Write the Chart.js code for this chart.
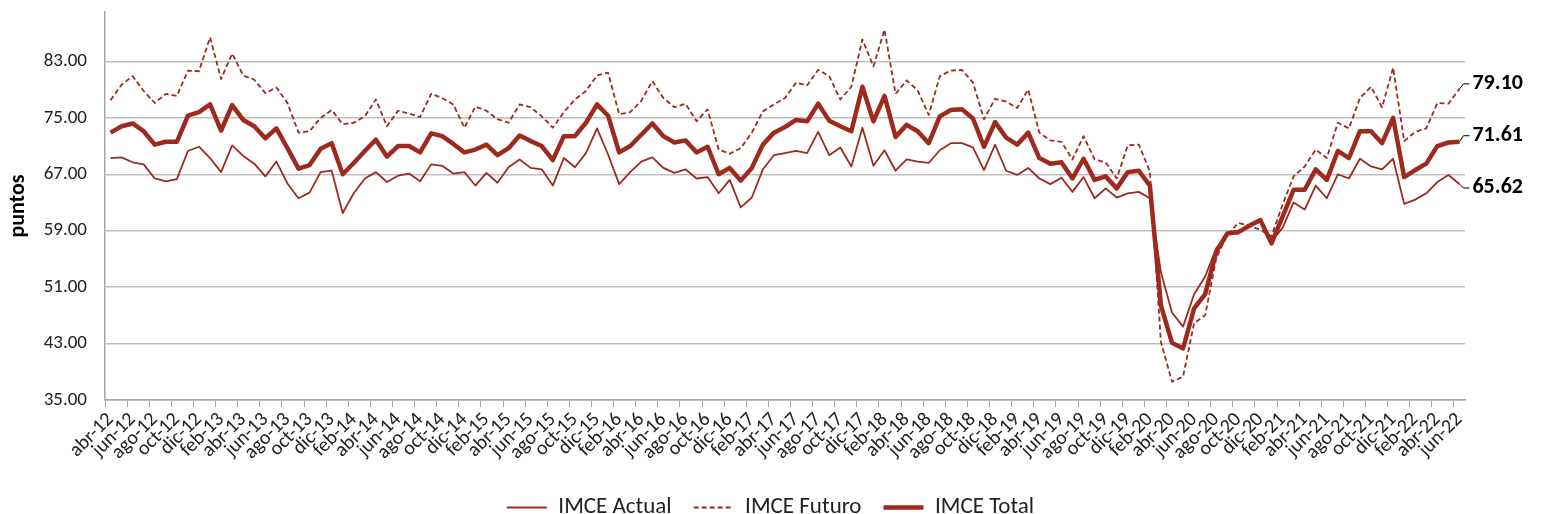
<!DOCTYPE html>
<html>
<head>
<meta charset="utf-8">
<script src="https://cdn.jsdelivr.net/npm/chart.js@4.4.1/dist/chart.umd.min.js"></script>
<style>
  html, body { margin: 0; padding: 0; background: #fff; }
</style>
</head>
<body>
<canvas id="imceChart" width="1541" height="514"></canvas>
<script>
// meses abr-12 .. jun-22
var monthNames = ['ene', 'feb', 'mar', 'abr', 'may', 'jun', 'jul', 'ago', 'sep', 'oct', 'nov', 'dic'];
var firstYear = 2012, firstMonth = 3, nMonths = 123;

var imceActual = [
  69.3, 69.4, 68.7, 68.4, 66.4, 66.0, 66.3, 70.3, 70.9, 69.3, 67.3, 71.1,
  69.6, 68.5, 66.7, 68.8, 65.7, 63.6, 64.4, 67.3, 67.5, 61.5, 64.3, 66.4,
  67.3, 65.9, 66.8, 67.1, 66.0, 68.4, 68.2, 67.1, 67.3, 65.4, 67.2, 65.8,
  68.0, 69.1, 67.9, 67.7, 65.4, 69.3, 68.0, 70.0, 73.5, 69.8, 65.6, 67.3,
  68.8, 69.4, 67.9, 67.2, 67.7, 66.4, 66.6, 64.3, 66.2, 62.3, 63.7, 67.7,
  69.7, 70.0, 70.3, 70.0, 73.0, 69.7, 70.8, 68.1, 73.6, 68.2, 70.4, 67.5,
  69.1, 68.8, 68.6, 70.4, 71.4, 71.4, 70.8, 67.6, 71.2, 67.5, 66.9, 67.9,
  66.4, 65.6, 66.5, 64.5, 66.6, 63.6, 65.0, 63.7, 64.3, 64.5, 63.6, 53.1,
  47.4, 45.4, 50.0, 52.5, 56.5, 58.6, 58.6, 59.9, 60.6, 57.5, 59.4, 63.0,
  62.0, 65.4, 63.6, 67.0, 66.4, 69.2, 68.1, 67.7, 69.2, 62.8, 63.4, 64.3,
  65.9, 66.9, 65.62
];

var imceFuturo = [
  77.5, 79.7, 80.9, 78.8, 77.1, 78.4, 78.1, 81.7, 81.6, 86.4, 80.5, 84.1,
  81.0, 80.4, 78.5, 79.3, 77.1, 72.9, 73.1, 75.0, 76.1, 74.1, 74.3, 75.2,
  77.6, 73.8, 76.0, 75.6, 75.1, 78.4, 77.8, 76.9, 73.6, 76.6, 76.0, 74.8,
  74.3, 76.9, 76.5, 75.2, 73.6, 75.8, 77.6, 78.8, 81.0, 81.4, 75.5, 75.8,
  77.4, 80.2, 77.8, 76.5, 77.0, 74.5, 76.2, 70.5, 69.9, 70.7, 72.9, 75.9,
  76.9, 77.8, 80.0, 79.6, 81.8, 80.9, 77.6, 79.4, 86.1, 82.3, 87.5, 78.4,
  80.3, 78.9, 75.4, 80.9, 81.7, 81.8, 80.0, 74.8, 77.7, 77.3, 76.4, 79.0,
  72.9, 71.8, 71.6, 69.1, 72.4, 69.1, 68.7, 66.4, 71.1, 71.2, 67.4, 43.2,
  37.6, 38.3, 45.9, 47.0, 55.1, 58.4, 60.1, 59.7, 59.1, 58.2, 62.7, 66.7,
  68.1, 70.5, 69.3, 74.3, 73.5, 77.8, 79.4, 76.5, 82.1, 71.7, 73.0, 73.5,
  77.1, 77.0, 79.10
];

var imceTotal = [
  72.9, 73.8, 74.2, 73.1, 71.2, 71.6, 71.6, 75.3, 75.8, 76.9, 73.2, 76.8,
  74.7, 73.8, 72.1, 73.5, 70.7, 67.8, 68.3, 70.6, 71.4, 67.0, 68.6, 70.3,
  71.9, 69.5, 71.0, 71.0, 70.1, 72.8, 72.4, 71.3, 70.1, 70.5, 71.2, 69.7,
  70.7, 72.5, 71.7, 71.0, 69.0, 72.4, 72.4, 74.3, 76.9, 75.3, 70.1, 71.0,
  72.6, 74.2, 72.4, 71.5, 71.8, 70.1, 70.9, 67.0, 67.9, 66.1, 67.9, 71.2,
  72.9, 73.7, 74.7, 74.5, 77.0, 74.6, 73.8, 73.1, 79.4, 74.5, 78.1, 72.3,
  74.0, 73.1, 71.4, 75.2, 76.1, 76.2, 74.9, 70.9, 74.4, 72.2, 71.2, 72.9,
  69.3, 68.5, 68.7, 66.4, 69.2, 66.2, 66.7, 65.0, 67.3, 67.5, 65.4, 48.4,
  43.1, 42.3, 48.0, 50.0, 56.0, 58.6, 58.8, 59.7, 60.5, 57.2, 61.0, 64.8,
  64.8, 67.7, 66.2, 70.3, 69.3, 73.1, 73.1, 71.4, 75.0, 66.6, 67.6, 68.5,
  71.0, 71.5, 71.61
];

var yTicks = [35, 43, 51, 59, 67, 75, 83];

var monthLabels = [];
for (var k = 0; k < nMonths; k++) {
    var m = (firstMonth + k) % 12;
    var yr = firstYear + Math.floor((firstMonth + k) / 12);
    monthLabels.push(monthNames[m] + '-' + String(yr).slice(2));
}

var lineColor = '#9e2a1e';
var fontFam = 'Carlito, Lato, sans-serif';

Chart.defaults.font.family = fontFam;
Chart.defaults.font.size = 19;
Chart.defaults.color = '#222';

// etiquetas del ultimo valor a la derecha
var endLabels = {
    id: 'endLabels',
    afterDatasetsDraw: function(chart) {
        var c = chart.ctx;
        var shifts = [4, -5, -6]; // actual, futuro, total
        chart.data.datasets.forEach(function(ds, di) {
            var meta = chart.getDatasetMeta(di);
            var pt = meta.data[meta.data.length - 1];
            var val = ds.data[ds.data.length - 1];
            var ly = pt.y + shifts[di];
            c.save();
            c.strokeStyle = '#000';
            c.lineWidth = 1;
            c.beginPath();
            c.moveTo(pt.x, pt.y);
            c.lineTo(pt.x + 4, ly);
            c.lineTo(pt.x + 10, ly);
            c.stroke();
            c.font = 'bold 22px ' + fontFam;
            c.fillStyle = '#000';
            c.textAlign = 'left';
            c.textBaseline = 'middle';
            c.fillText(val.toFixed(2), pt.x + 13, ly);
            c.restore();
        });
    }
};

var ctx = document.getElementById('imceChart').getContext('2d');
var chart = new Chart(ctx, {
    type: 'line',
    data: {
        labels: monthLabels,
        datasets: [{
            label: 'IMCE Actual',
            data: imceActual,
            borderColor: lineColor,
            backgroundColor: lineColor,
            borderWidth: 1.8,
            order: 2
        }, {
            label: 'IMCE Futuro',
            data: imceFuturo,
            borderColor: lineColor,
            backgroundColor: lineColor,
            borderWidth: 1.8,
            borderDash: [5, 3],
            order: 1
        }, {
            label: 'IMCE Total',
            data: imceTotal,
            borderColor: lineColor,
            backgroundColor: lineColor,
            borderWidth: 4.5,
            order: 0
        }]
    },
    options: {
        responsive: false,
        animation: false,
        elements: {
            point: { radius: 0 },
            line: { tension: 0, borderJoinStyle: 'round', fill: false }
        },
        layout: { padding: { top: 12, right: 0, left: 0, bottom: -15 } },
        plugins: {
            tooltip: { enabled: false },
            legend: {
                position: 'bottom',
                labels: {
                    usePointStyle: true,
                    pointStyle: 'line',
                    pointStyleWidth: 40,
                    padding: 22,
                    color: '#222',
                    font: { size: 23 },
                    // el dash del futuro no pasa solo a la leyenda
                    generateLabels: function(ch) {
                        var items = Chart.defaults.plugins.legend.labels.generateLabels(ch);
                        items.forEach(function(it) {
                            var ds = ch.data.datasets[it.datasetIndex];
                            it.lineDash = ds.borderDash || [];
                            it.lineWidth = ds.borderWidth;
                            it.strokeStyle = ds.borderColor;
                        });
                        return items;
                    },
                    sort: function(a, b) { return a.datasetIndex - b.datasetIndex; }
                }
            }
        },
        scales: {
            x: {
                offset: true,
                grid: {
                    offset: true,
                    drawOnChartArea: false,
                    tickLength: 7,
                    tickWidth: 1,
                    tickColor: function(c) { return c.index % 2 === 0 ? '#a6a6a6' : 'rgba(0,0,0,0)'; }
                },
                border: { color: '#a6a6a6', width: 1.5 },
                ticks: {
                    autoSkip: false,
                    minRotation: 45,
                    maxRotation: 45,
                    padding: 1,
                    font: { size: 20 },
                    callback: function(v, i) { return i % 2 === 0 ? this.getLabelForValue(v) : ''; }
                },
                afterFit: function(s) { s.height = 74; }
            },
            y: {
                min: 35,
                max: 90,
                afterBuildTicks: function(s) {
                    s.ticks = yTicks.map(function(v) { return { value: v }; });
                },
                grid: { color: '#bfbfbf', lineWidth: 1.5, drawTicks: false },
                border: { color: '#a6a6a6', width: 1.5 },
                ticks: {
                    padding: 18,
                    callback: function(v) { return Number(v).toFixed(2); }
                },
                title: {
                    display: true,
                    text: 'puntos',
                    color: '#000',
                    font: { size: 22, weight: 'bold' },
                    padding: { top: 5, bottom: 0 }
                },
                afterFit: function(s) {
                    s.width = 105;
                    s.paddingTop = 0;
                    s.paddingBottom = 0;
                }
            },
            // eje vacio a la derecha: deja sitio a las etiquetas finales
            yRight: {
                position: 'right',
                display: true,
                min: 35,
                max: 90,
                grid: { display: false },
                border: { display: false },
                ticks: { display: false },
                afterFit: function(s) {
                    s.width = 76;
                    s.paddingTop = 0;
                    s.paddingBottom = 0;
                }
            }
        }
    },
    plugins: [endLabels]
});
</script>
</body>
</html>
